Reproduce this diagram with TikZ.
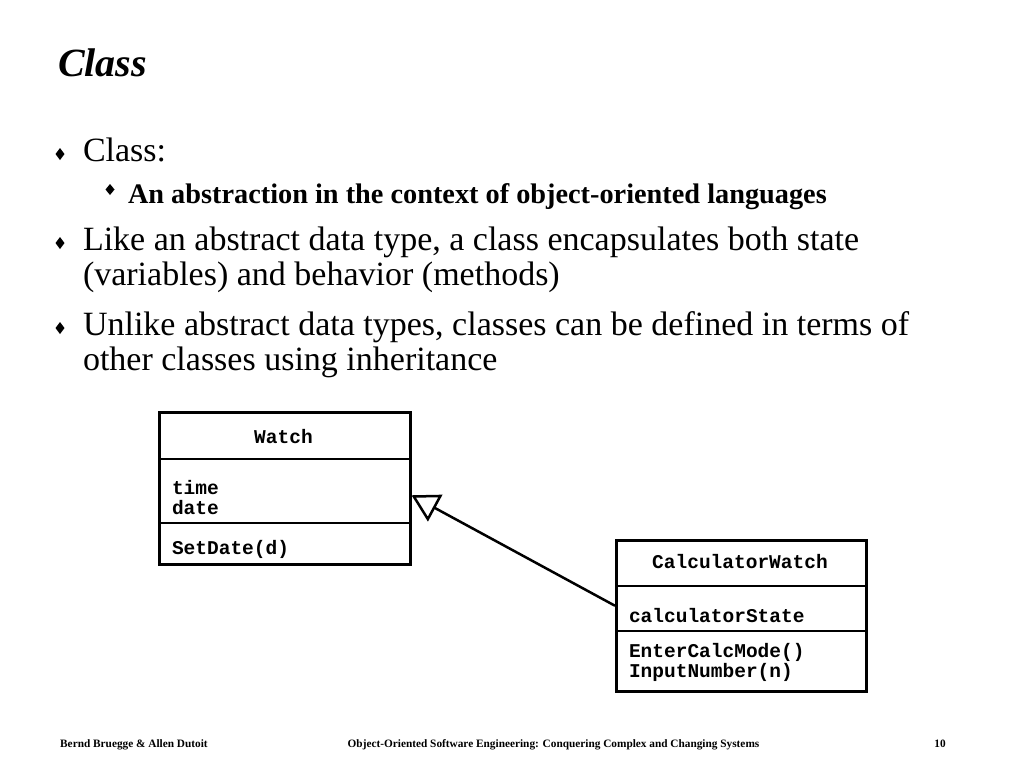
\documentclass[tikz,border=0pt]{standalone}
\usepackage{fontspec}
\setmainfont{Liberation Serif}
\newfontfamily\umlfont{Liberation Mono}
\usetikzlibrary{arrows.meta}
\tikzset{
  txt/.style={anchor=base west, inner sep=0pt, outer sep=0pt},
  bigtxt/.style={txt, font=\fontsize{34}{38}\selectfont},
  subtxt/.style={txt, font=\fontsize{28.3}{32}\selectfont\bfseries},
  umltxt/.style={inner sep=0pt, outer sep=0pt, font=\fontsize{19.5}{22}\selectfont\umlfont\bfseries},
  umlbox/.style={draw, line width=2.5pt, anchor=north west, inner sep=0pt},
  divider/.style={line width=2.5pt},
  foot/.style={inner sep=0pt, anchor=base, font=\fontsize{11.3}{12}\selectfont\bfseries},
  bul/.style={fill=black},
  inherit/.style={line width=2.5pt, -{Triangle[open, length=27pt, width=30pt, line width=2.5pt]}}
}
\begin{document}
\begin{tikzpicture}[x=1pt, y=-1pt]
\useasboundingbox (0,0) rectangle (1024,768);
% title
\node[txt, font=\fontsize{40}{44}\selectfont\bfseries\itshape] (title) at (58,77) {Class};
% bullets
\fill[bul] (60,148) -- (64.5,154) -- (60,160) -- (55.5,154) -- cycle;
\node[bigtxt] (b1) at (83,161) {Class:};
\fill[bul] (110,184) -- (114.5,189.5) -- (110,195) -- (105.5,189.5) -- cycle;
\node[subtxt] (s1) at (128,203) {An abstraction in the context of object-oriented languages};
\fill[bul] (60,237) -- (64.5,243) -- (60,249) -- (55.5,243) -- cycle;
\node[bigtxt] (b2a) at (83,250) {Like an abstract data type, a class encapsulates both state};
\node[bigtxt] (b2b) at (83,285) {(variables) and behavior (methods)};
\fill[bul] (60,322) -- (64.5,328) -- (60,334) -- (55.5,328) -- cycle;
\node[bigtxt] (b3a) at (83,335) {Unlike abstract data types, classes can be defined in terms of};
\node[bigtxt] (b3b) at (83,370) {other classes using inheritance};
% Watch class
\node[umlbox, minimum width=251pt, minimum height=152pt] (watch) at (158,411) {};
\draw[divider] (158,459) -- (409,459);
\draw[divider] (158,523) -- (409,523);
\node[umltxt] (wname) at (283.5,437) {Watch};
\node[umltxt, txt] (wattr1) at (172,494) {time};
\node[umltxt, txt] (wattr2) at (172,514) {date};
\node[umltxt, txt] (wop1) at (172,554) {SetDate(d)};
% CalculatorWatch class
\node[umlbox, minimum width=250pt, minimum height=151pt] (calc) at (615,539) {};
\draw[divider] (615,586) -- (865,586);
\draw[divider] (615,631) -- (865,631);
\node[umltxt] (cname) at (740,562) {CalculatorWatch};
\node[umltxt, txt] (cattr1) at (629,622) {calculatorState};
\node[umltxt, txt] (cop1) at (629,657) {EnterCalcMode()};
\node[umltxt, txt] (cop2) at (629,677) {InputNumber(n)};
% inheritance
\draw[inherit] ([yshift=10pt]calc.west) -- ([yshift=-7pt]watch.east);
% footer
\node[foot, anchor=base west] (f1) at (60,747) {Bernd Bruegge \& Allen Dutoit};
\node[foot] (f2) at (553.5,747) {Object-Oriented Software Engineering: Conquering Complex and Changing Systems};
\node[foot] (f3) at (940,747) {10};
\end{tikzpicture}
\end{document}
